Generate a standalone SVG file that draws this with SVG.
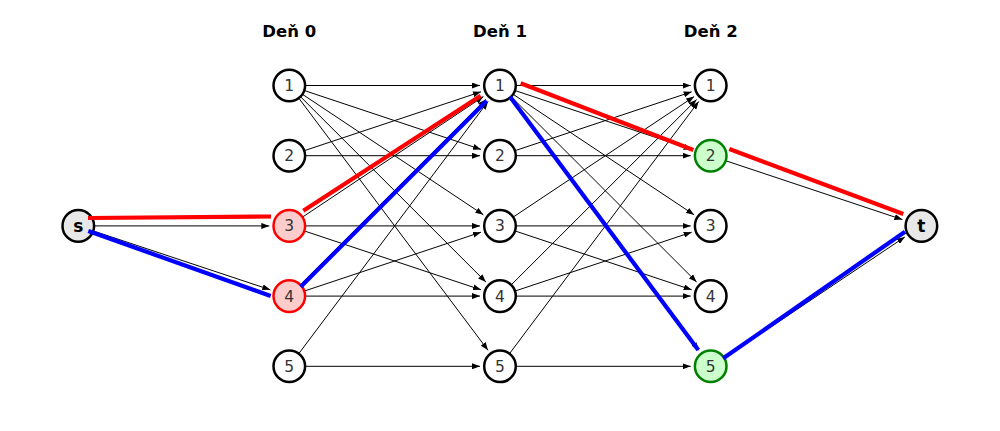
<svg xmlns="http://www.w3.org/2000/svg" width="1000" height="431" viewBox="0 0 1000 431">
<style>
.e{stroke:#000;stroke-width:1;fill:none;marker-end:url(#ah)}
.hr{stroke:#ff0000;stroke-width:4.2;fill:none}
.hb{stroke:#0000ff;stroke-width:4.2;fill:none}
.n circle{fill:#fff;stroke:#000;stroke-width:2.5}
.n text{font-family:"DejaVu Sans",sans-serif;font-size:15.5px;fill:#333;text-anchor:middle}
.st circle{fill:#e8e8e8}
.st text{font-weight:bold;fill:#000;font-size:17px}
.r circle{fill:#ffcccc;stroke:#ff0000}
.g circle{fill:#ccffcc;stroke:#008000}
.hd{font-family:"DejaVu Sans",sans-serif;font-size:16.5px;font-weight:bold;fill:#000;text-anchor:middle}
</style>
<defs>
<marker id="ah" markerUnits="userSpaceOnUse" markerWidth="9" markerHeight="6" refX="8" refY="3" orient="auto">
<path d="M0,0 L8,3 L0,6 z" fill="#000"/>
</marker>
</defs>
<rect width="1000" height="431" fill="#fff"/>
<g id="headers">
<text class="hd" x="289.3" y="36.5">Deň 0</text>
<text class="hd" x="500" y="36.5">Deň 1</text>
<text class="hd" x="710.7" y="36.5">Deň 2</text>
</g>
<g id="connectors">
<line class="e" x1="94.3" y1="225.9" x2="269.3" y2="225.9"/>
<line class="e" x1="93.5" y1="231.0" x2="270.3" y2="289.8"/>
<line class="e" x1="305.3" y1="85.5" x2="480" y2="85.5"/>
<line class="e" x1="304.5" y1="90.6" x2="481.0" y2="149.4"/>
<line class="e" x1="302.6" y1="94.4" x2="483.4" y2="214.8"/>
<line class="e" x1="300.6" y1="96.8" x2="485.9" y2="282.0"/>
<line class="e" x1="298.9" y1="98.3" x2="488.0" y2="350.3"/>
<line class="e" x1="304.5" y1="150.6" x2="481.0" y2="91.8"/>
<line class="e" x1="305.3" y1="155.7" x2="480" y2="155.7"/>
<line class="e" x1="302.6" y1="217.0" x2="483.4" y2="96.6"/>
<line class="e" x1="305.3" y1="225.9" x2="480" y2="225.9"/>
<line class="e" x1="304.5" y1="231.0" x2="481.0" y2="289.8"/>
<line class="e" x1="300.6" y1="284.8" x2="485.9" y2="99.6"/>
<line class="e" x1="304.5" y1="291.0" x2="481.0" y2="232.2"/>
<line class="e" x1="305.3" y1="296.1" x2="480" y2="296.1"/>
<line class="e" x1="298.9" y1="353.5" x2="488.0" y2="101.5"/>
<line class="e" x1="305.3" y1="366.3" x2="480" y2="366.3"/>
<line class="e" x1="516" y1="85.5" x2="690.7" y2="85.5"/>
<line class="e" x1="515.2" y1="90.6" x2="691.7" y2="149.4"/>
<line class="e" x1="513.3" y1="94.4" x2="694.1" y2="214.8"/>
<line class="e" x1="511.3" y1="96.8" x2="696.6" y2="282.0"/>
<line class="e" x1="509.6" y1="98.3" x2="698.7" y2="350.3"/>
<line class="e" x1="515.2" y1="150.6" x2="691.7" y2="91.8"/>
<line class="e" x1="516" y1="155.7" x2="690.7" y2="155.7"/>
<line class="e" x1="513.3" y1="217.0" x2="694.1" y2="96.6"/>
<line class="e" x1="516" y1="225.9" x2="690.7" y2="225.9"/>
<line class="e" x1="515.2" y1="231.0" x2="691.7" y2="289.8"/>
<line class="e" x1="511.3" y1="284.8" x2="696.6" y2="99.6"/>
<line class="e" x1="515.2" y1="291.0" x2="691.7" y2="232.2"/>
<line class="e" x1="516" y1="296.1" x2="690.7" y2="296.1"/>
<line class="e" x1="509.6" y1="353.5" x2="698.7" y2="101.5"/>
<line class="e" x1="516" y1="366.3" x2="690.7" y2="366.3"/>
<line class="e" x1="725.9" y1="160.8" x2="902.4" y2="219.6"/>
<line class="e" x1="724.0" y1="358.4" x2="904.8" y2="237.0"/>
</g>
<g id="nodes">
<g id="s" class="n st"><circle cx="78.3" cy="225.9" r="15.8"/><text x="78.3" y="231.8">s</text></g>
<g id="d0n1" class="n"><circle cx="289.3" cy="85.5" r="15.8"/><text x="289.3" y="91">1</text></g>
<g id="d0n2" class="n"><circle cx="289.3" cy="155.7" r="15.8"/><text x="289.3" y="161.2">2</text></g>
<g id="d0n3" class="n r"><circle cx="289.3" cy="225.9" r="15.8"/><text x="289.3" y="231.4">3</text></g>
<g id="d0n4" class="n r"><circle cx="289.3" cy="296.1" r="15.8"/><text x="289.3" y="301.6">4</text></g>
<g id="d0n5" class="n"><circle cx="289.3" cy="366.3" r="15.8"/><text x="289.3" y="371.8">5</text></g>
<g id="d1n1" class="n"><circle cx="500" cy="85.5" r="15.8"/><text x="500" y="91">1</text></g>
<g id="d1n2" class="n"><circle cx="500" cy="155.7" r="15.8"/><text x="500" y="161.2">2</text></g>
<g id="d1n3" class="n"><circle cx="500" cy="225.9" r="15.8"/><text x="500" y="231.4">3</text></g>
<g id="d1n4" class="n"><circle cx="500" cy="296.1" r="15.8"/><text x="500" y="301.6">4</text></g>
<g id="d1n5" class="n"><circle cx="500" cy="366.3" r="15.8"/><text x="500" y="371.8">5</text></g>
<g id="d2n1" class="n"><circle cx="710.7" cy="85.5" r="15.8"/><text x="710.7" y="91">1</text></g>
<g id="d2n2" class="n g"><circle cx="710.7" cy="155.7" r="15.8"/><text x="710.7" y="161.2">2</text></g>
<g id="d2n3" class="n"><circle cx="710.7" cy="225.9" r="15.8"/><text x="710.7" y="231.4">3</text></g>
<g id="d2n4" class="n"><circle cx="710.7" cy="296.1" r="15.8"/><text x="710.7" y="301.6">4</text></g>
<g id="d2n5" class="n g"><circle cx="710.7" cy="366.3" r="15.8"/><text x="710.7" y="371.8">5</text></g>
<g id="t" class="n st"><circle cx="921.4" cy="225.9" r="15.8"/><text x="921.4" y="231.8">t</text></g>
</g>
<g id="highlighted-paths">
<line class="hr" x1="88" y1="218" x2="271" y2="216.5"/>
<line class="hr" x1="303.3" y1="210.7" x2="480.7" y2="95.7"/>
<line class="hr" x1="520.7" y1="83.3" x2="693.3" y2="150"/>
<line class="hr" x1="729.3" y1="149" x2="903.3" y2="214"/>
<line class="hb" x1="88.3" y1="231" x2="270.7" y2="296"/>
<line class="hb" x1="300.7" y1="286.7" x2="486.7" y2="100.7"/>
<line class="hb" x1="510" y1="96.7" x2="698.3" y2="350"/>
<line class="hb" x1="723.3" y1="358.3" x2="905" y2="231.7"/>
</g>
</svg>
